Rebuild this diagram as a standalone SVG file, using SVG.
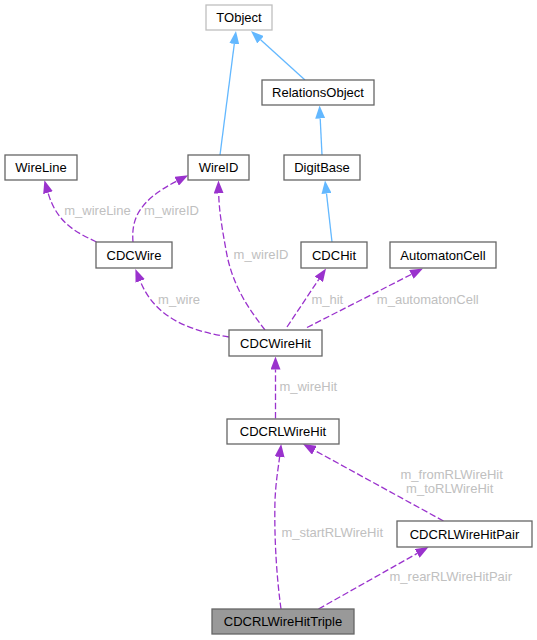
<svg xmlns="http://www.w3.org/2000/svg" width="537" height="640" viewBox="0 0 537 640">
<style>
.node rect{fill:#ffffff;stroke:#666666;stroke-width:1.3}
.node text{font-family:"Liberation Sans",Arial,sans-serif;font-size:13px;fill:#000000;text-anchor:middle}
.inh{fill:none;stroke:#63b8ff;stroke-width:1.3;marker-end:url(#ab)}
.use{fill:none;stroke:#9a32cd;stroke-width:1.3;stroke-dasharray:6.5,2.7;marker-end:url(#ap)}
.lbl{font-family:"Liberation Sans",Arial,sans-serif;font-size:13px;fill:#c0c0c0;text-anchor:middle}
</style>
<defs>
<marker id="ab" viewBox="0 0 13 10" refX="0" refY="5" markerWidth="13" markerHeight="10" markerUnits="userSpaceOnUse" orient="auto"><path d="M0,0 L13,5 L0,10 Z" fill="#63b8ff"/></marker>
<marker id="ap" viewBox="0 0 13 10" refX="0" refY="5" markerWidth="13" markerHeight="10" markerUnits="userSpaceOnUse" orient="auto"><path d="M0,0 L13,5 L0,10 Z" fill="#9a32cd"/></marker>
</defs>
<rect width="537" height="640" fill="#ffffff"/>
<g id="connectors">
<path class="inh" d="M220,155 L234.3,43.9"/>
<path class="inh" d="M305,80 L260.6,39.7"/>
<path class="inh" d="M322,155 L320.2,118.5"/>
<path class="inh" d="M332,242 L326.5,193.4"/>
<path class="use" d="M96.5,242 C78,233 57,224 48,192.7"/>
<path class="use" d="M133,242 C131,218 140,200 176.6,181.2"/>
<path class="use" d="M265,330 C248,308 232,285 226,250 C222,228 219,210 218.7,193.5"/>
<path class="use" d="M229,337 C190,331 155,318 140.2,281"/>
<path class="use" d="M287,327 L318.8,279.3"/>
<path class="use" d="M307,327.5 L411.4,274.4"/>
<path class="use" d="M275.5,418.5 L275.5,369.5"/>
<path class="use" d="M281,609 C277,580 274,540 275,500 C276,480 278,470 279.6,457"/>
<path class="use" d="M443.5,521 L314.4,450.3"/>
<path class="use" d="M318.5,609 L417.2,553.4"/>
<text class="lbl" x="97.5" y="215">m_wireLine</text>
<text class="lbl" x="171.5" y="215">m_wireID</text>
<text class="lbl" x="261" y="258.8">m_wireID</text>
<text class="lbl" x="179" y="303.5">m_wire</text>
<text class="lbl" x="327.3" y="303.5">m_hit</text>
<text class="lbl" x="427.8" y="303.5">m_automatonCell</text>
<text class="lbl" x="308.3" y="391">m_wireHit</text>
<text class="lbl" x="451.7" y="478.5">m_fromRLWireHit</text>
<text class="lbl" x="449.7" y="492.8">m_toRLWireHit</text>
<text class="lbl" x="332.2" y="537">m_startRLWireHit</text>
<text class="lbl" x="450.8" y="581">m_rearRLWireHitPair</text>
</g>
<g id="TObject" class="node"><rect x="206" y="5" width="66" height="25" style="stroke:#bfbfbf"/><text x="239" y="22">TObject</text></g>
<g id="RelationsObject" class="node"><rect x="262" y="80" width="112" height="25"/><text x="318" y="97">RelationsObject</text></g>
<g id="WireLine" class="node"><rect x="5" y="155" width="72" height="25"/><text x="41" y="172">WireLine</text></g>
<g id="WireID" class="node"><rect x="188" y="155" width="61" height="25"/><text x="218.5" y="172">WireID</text></g>
<g id="DigitBase" class="node"><rect x="284" y="155" width="76" height="25"/><text x="322" y="172">DigitBase</text></g>
<g id="CDCWire" class="node"><rect x="96" y="242" width="76" height="26"/><text x="134" y="259.5">CDCWire</text></g>
<g id="CDCHit" class="node"><rect x="301" y="242" width="66" height="26"/><text x="334" y="259.5">CDCHit</text></g>
<g id="AutomatonCell" class="node"><rect x="390" y="242" width="106" height="26"/><text x="443" y="259.5">AutomatonCell</text></g>
<g id="CDCWireHit" class="node"><rect x="229" y="330" width="93" height="26"/><text x="275.5" y="347.5">CDCWireHit</text></g>
<g id="CDCRLWireHit" class="node"><rect x="227" y="419" width="112" height="25"/><text x="283" y="436">CDCRLWireHit</text></g>
<g id="CDCRLWireHitPair" class="node"><rect x="397" y="521" width="135" height="26"/><text x="464.5" y="538.5">CDCRLWireHitPair</text></g>
<g id="CDCRLWireHitTriple" class="node"><rect x="212" y="609" width="142" height="25" style="fill:#999999"/><text x="283" y="626">CDCRLWireHitTriple</text></g>
</svg>
